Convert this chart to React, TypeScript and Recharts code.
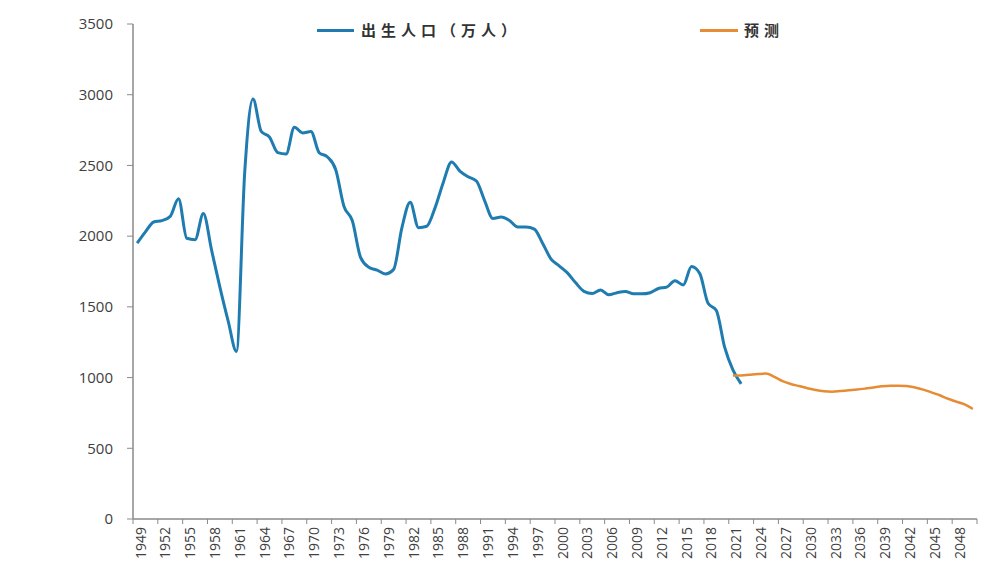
import { LineChart, Line, XAxis, YAxis, Legend } from 'recharts';

// annual births in 10k people
const years = [
  1949, 1950, 1951, 1952, 1953, 1954, 1955, 1956, 1957, 1958, 1959, 1960, 1961, 1962, 1963, 1964, 1965,
  1966, 1967, 1968, 1969, 1970, 1971, 1972, 1973, 1974, 1975, 1976, 1977, 1978, 1979, 1980, 1981, 1982,
  1983, 1984, 1985, 1986, 1987, 1988, 1989, 1990, 1991, 1992, 1993, 1994, 1995, 1996, 1997, 1998, 1999,
  2000, 2001, 2002, 2003, 2004, 2005, 2006, 2007, 2008, 2009, 2010, 2011, 2012, 2013, 2014, 2015, 2016,
  2017, 2018, 2019, 2020, 2021, 2022, 2023, 2024, 2025, 2026, 2027, 2028, 2029, 2030, 2031, 2032, 2033,
  2034, 2035, 2036, 2037, 2038, 2039, 2040, 2041, 2042, 2043, 2044, 2045, 2046, 2047, 2048, 2049, 2050,
];

// 1949 - 2022
const births = [
  1950, 2030, 2100, 2110, 2140, 2265, 1985, 1975, 2160, 1900,
  1640, 1400, 1185, 2450, 2970, 2740, 2700, 2590, 2580, 2770,
  2730, 2740, 2590, 2560, 2470, 2210, 2110, 1850, 1780, 1760,
  1733, 1765, 2060, 2240, 2060, 2070, 2200, 2380, 2525, 2460,
  2420, 2390, 2250, 2125, 2135, 2110, 2065, 2065, 2050, 1950,
  1840, 1790, 1740, 1670, 1610, 1595, 1620, 1585, 1600, 1608,
  1592, 1592, 1600, 1630, 1640, 1685, 1655, 1785, 1735, 1525,
  1475, 1215, 1055, 955,
];

// 2021 - 2050
const forecastFrom = 2021;
const forecast = [
  1015, 1015, 1020, 1025, 1028, 1005, 975, 955, 940, 925,
  912, 903, 900, 905, 910, 915, 922, 930, 938, 942,
  942, 940, 930, 915, 895, 875, 850, 830, 810, 778,
];

const xTickLabels = [
  1949, 1952, 1955, 1958, 1961, 1964, 1967, 1970, 1973, 1976, 1979, 1982, 1985, 1988, 1991, 1994, 1997,
  2000, 2003, 2006, 2009, 2012, 2015, 2018, 2021, 2024, 2027, 2030, 2033, 2036, 2039, 2042, 2045, 2048,
];
const yTicks = [0, 500, 1000, 1500, 2000, 2500, 3000, 3500];

const BLUE = '#1f7cb0';
const ORANGE = '#e58c35';
const AXIS = '#8a8a8a';
const TEXT = '#404040';

const data = years.map((year, i) => ({
  year,
  births: i < births.length ? births[i] : null,
  forecast: year >= forecastFrom ? forecast[year - forecastFrom] : null,
}));

// tick marks sit between categories, like an Excel category axis
const firstYear = years[0];
const lastYear = years[years.length - 1];
const xTicks = [...xTickLabels.map((y) => y - 0.5), lastYear + 0.5];

function YearTick({ x, y, payload }: any) {
  const label = payload.value + 0.5;
  if (!xTickLabels.includes(label)) return null;
  return (
    <text
      transform={`translate(${x + 7},${y + 1}) rotate(-90)`}
      textAnchor="end"
      dominantBaseline="central"
      fill={TEXT}
      fontSize={14}
      fontFamily="'Open Sans', sans-serif"
    >
      {label}
    </text>
  );
}

function SeriesLegend() {
  const label = {
    position: 'absolute' as const,
    top: 0,
    lineHeight: '22px',
    fontFamily: "'Noto Sans CJK SC', sans-serif",
    fontWeight: 700,
    fontSize: 15,
    letterSpacing: 5,
    color: '#333',
    whiteSpace: 'nowrap' as const,
  };
  return (
    <div style={{ position: 'relative', width: 1000, height: 22 }}>
      <span style={{ position: 'absolute', left: 317, top: 10, width: 37, height: 3, background: BLUE }} />
      <span style={{ ...label, left: 361 }}>出生人口（万人）</span>
      <span style={{ position: 'absolute', left: 700, top: 10, width: 38, height: 3, background: ORANGE }} />
      <span style={{ ...label, left: 744 }}>预测</span>
    </div>
  );
}

export default function App() {
  return (
    <div style={{ position: 'absolute', left: 0, top: 0, background: '#fff' }}>
      <LineChart width={1000} height={562} data={data} margin={{ top: 24, right: 23, bottom: 0, left: 0 }}>
        <XAxis
          dataKey="year"
          type="number"
          domain={[firstYear - 0.5, lastYear + 0.5]}
          ticks={xTicks}
          interval={0}
          height={43}
          tick={<YearTick />}
          tickSize={5}
          axisLine={{ stroke: AXIS, strokeWidth: 1.5 }}
          tickLine={{ stroke: AXIS }}
        />
        <YAxis
          domain={[0, 3500]}
          ticks={yTicks}
          width={133}
          tickSize={6}
          tickMargin={14}
          tick={{ fill: TEXT, fontSize: 15, fontFamily: "'Open Sans', sans-serif" }}
          axisLine={{ stroke: AXIS, strokeWidth: 1.5 }}
          tickLine={{ stroke: AXIS }}
        />
        <Legend
          verticalAlign="middle"
          layout="horizontal"
          wrapperStyle={{ top: 19, left: 0, width: 1000, height: 22 }}
          content={<SeriesLegend />}
        />
        <Line
          type="monotone"
          dataKey="births"
          name="出生人口（万人）"
          stroke={BLUE}
          strokeWidth={3}
          dot={false}
          isAnimationActive={false}
        />
        <Line
          type="monotone"
          dataKey="forecast"
          name="预测"
          stroke={ORANGE}
          strokeWidth={2.5}
          dot={false}
          isAnimationActive={false}
        />
      </LineChart>
    </div>
  );
}
